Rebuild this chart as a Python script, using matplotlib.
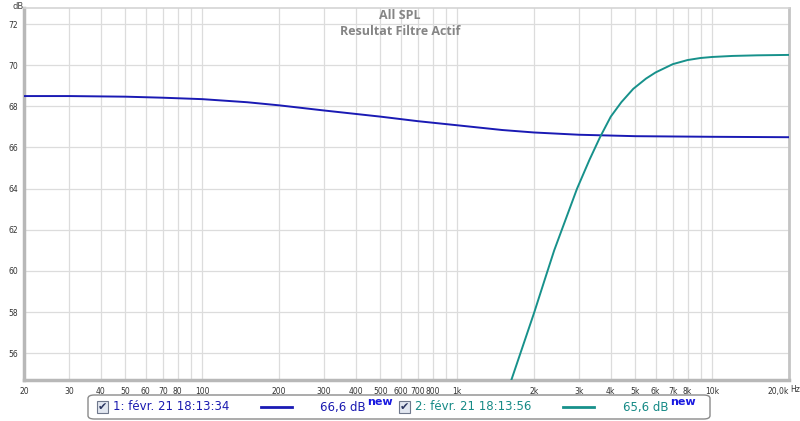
import matplotlib.pyplot as plt
import numpy as np
from matplotlib.patches import FancyBboxPatch, Rectangle

# donnees
freq_1 = [20, 30, 50, 70, 100, 150, 200, 300, 500, 700, 1000, 1500, 2000,
          3000, 5000, 10000, 20000]
spl_1 = [68.5, 68.5, 68.47, 68.42, 68.35, 68.2, 68.05, 67.8, 67.5, 67.28,
         67.08, 66.85, 66.73, 66.62, 66.55, 66.52, 66.5]

freq_2 = [1500, 1630, 2000, 2200, 2400, 2950, 3300, 3630, 4000, 4400, 4900,
          5500, 6000, 7000, 8000, 9000, 10000, 12000, 15000, 20000]
spl_2 = [53.4, 54.7, 57.95, 59.55, 61.0, 64.0, 65.4, 66.5, 67.5, 68.2, 68.85,
         69.35, 69.65, 70.05, 70.25, 70.35, 70.4, 70.45, 70.48, 70.5]

x_ticks = [20, 30, 40, 50, 60, 70, 80, 100, 200, 300, 400, 500, 600, 700,
           800, 1000, 2000, 3000, 4000, 5000, 6000, 7000, 8000, 10000, 20000]
x_labels = ["20", "30", "40", "50", "60", "70", "80", "100", "200", "300",
            "400", "500", "600", "700", "800", "1k", "2k", "3k", "4k", "5k",
            "6k", "7k", "8k", "10k", "20,0k"]
y_ticks = [56, 58, 60, 62, 64, 66, 68, 70, 72]

legende = [("1: févr. 21 18:13:34", "66,6 dB", "#1a1ab0"),
           ("2: févr. 21 18:13:56", "65,6 dB", "#168a86")]

bleu = "#1a1ab4"
sarcelle = "#17918b"

fig = plt.figure(figsize=(8, 4.21), dpi=100)
ax = fig.add_axes([0.03, 0.0974, 0.95625, 0.8836])

# grille
grid_x = []
for dec in [10, 100, 1000, 10000]:
    for m in range(1, 10):
        f = dec * m
        if 20 <= f <= 20000:
            grid_x.append(f)
for f in grid_x:
    ax.axvline(f, color="#dcdcdc", lw=0.9, zorder=0)
for v in y_ticks:
    ax.axhline(v, color="#dcdcdc", lw=0.9, zorder=0)

ax.plot(freq_1, spl_1, color=bleu, lw=1.4, zorder=3)
ax.plot(freq_2, spl_2, color=sarcelle, lw=1.4, zorder=3)

ax.set_xscale("log")
ax.set_xlim(20, 20000)
ax.set_ylim(54.7, 72.78)
ax.set_xticks(x_ticks)
ax.set_xticklabels(x_labels)
ax.minorticks_off()
ax.set_yticks(y_ticks)
ax.tick_params(length=0, labelsize=5.5, labelcolor="#333333")
ax.tick_params(axis="x", pad=5)
ax.tick_params(axis="y", pad=4)
ax.get_xticklabels()[-1].set_horizontalalignment("right")

for s in ["left", "bottom"]:
    ax.spines[s].set_color("#b8b8b8")
    ax.spines[s].set_linewidth(2.5)
ax.spines["right"].set_color("#c4c4c4")
ax.spines["right"].set_linewidth(2)
ax.spines["top"].set_color("#d4d4d4")
ax.spines["top"].set_linewidth(1.2)

fig.text(0.0225, 0.984, "dB", fontsize=6, color="#444444", ha="center", va="center")
fig.text(790 / 800, (421 - 389) / 421, "Hz", fontsize=5.5, color="#333333",
         ha="left", va="center")

fig.text(0.5, 0.963, "All SPL", fontsize=9, color="#858585", ha="center",
         va="center", fontweight="bold", family="Open Sans")
fig.text(0.5, 0.925, "Resultat Filtre Actif", fontsize=9, color="#858585",
         ha="center", va="center", fontweight="bold", family="Open Sans")

# legende en bas
H = 421
boite = FancyBboxPatch((88 / 800, (H - 419) / H), 622 / 800, 24 / H,
                       boxstyle="round,pad=0,rounding_size=0.008",
                       transform=fig.transFigure, facecolor="white",
                       edgecolor="#8a8a8a", lw=1.0)
fig.patches.append(boite)

y_leg = (H - 407) / H
x_pos = [(97, 113, 261, 292, 320), (399, 415, 563, 594, 623)]
couleurs_ligne = [bleu, sarcelle]
for (nom, valeur, coul), (xc, xt, xl0, xl1, xv), cl in zip(legende, x_pos, couleurs_ligne):
    case = Rectangle((xc / 800, (H - 413) / H), 11 / 800, 12 / H,
                     transform=fig.transFigure, facecolor="#e2e7f0",
                     edgecolor="#6f788c", lw=0.8)
    fig.patches.append(case)
    fig.text((xc + 5.5) / 800, y_leg + 0.001, "\u2714", fontsize=8,
             color="#2a3560", ha="center", va="center")
    fig.text(xt / 800, y_leg, nom, fontsize=8.5, color=coul, ha="left",
             va="center")
    fig.lines.append(plt.Line2D([xl0 / 800, xl1 / 800], [y_leg, y_leg],
                                transform=fig.transFigure, color=cl, lw=2))
    fig.text(xv / 800, y_leg, valeur, fontsize=8.5, color=coul,
             ha="left", va="center")
    fig.text((xv + 47) / 800, y_leg + 0.012, "new", fontsize=8, color="#1a1ae0",
             ha="left", va="center", fontweight="bold")

fig.savefig("out.png", dpi=100, facecolor="white")
